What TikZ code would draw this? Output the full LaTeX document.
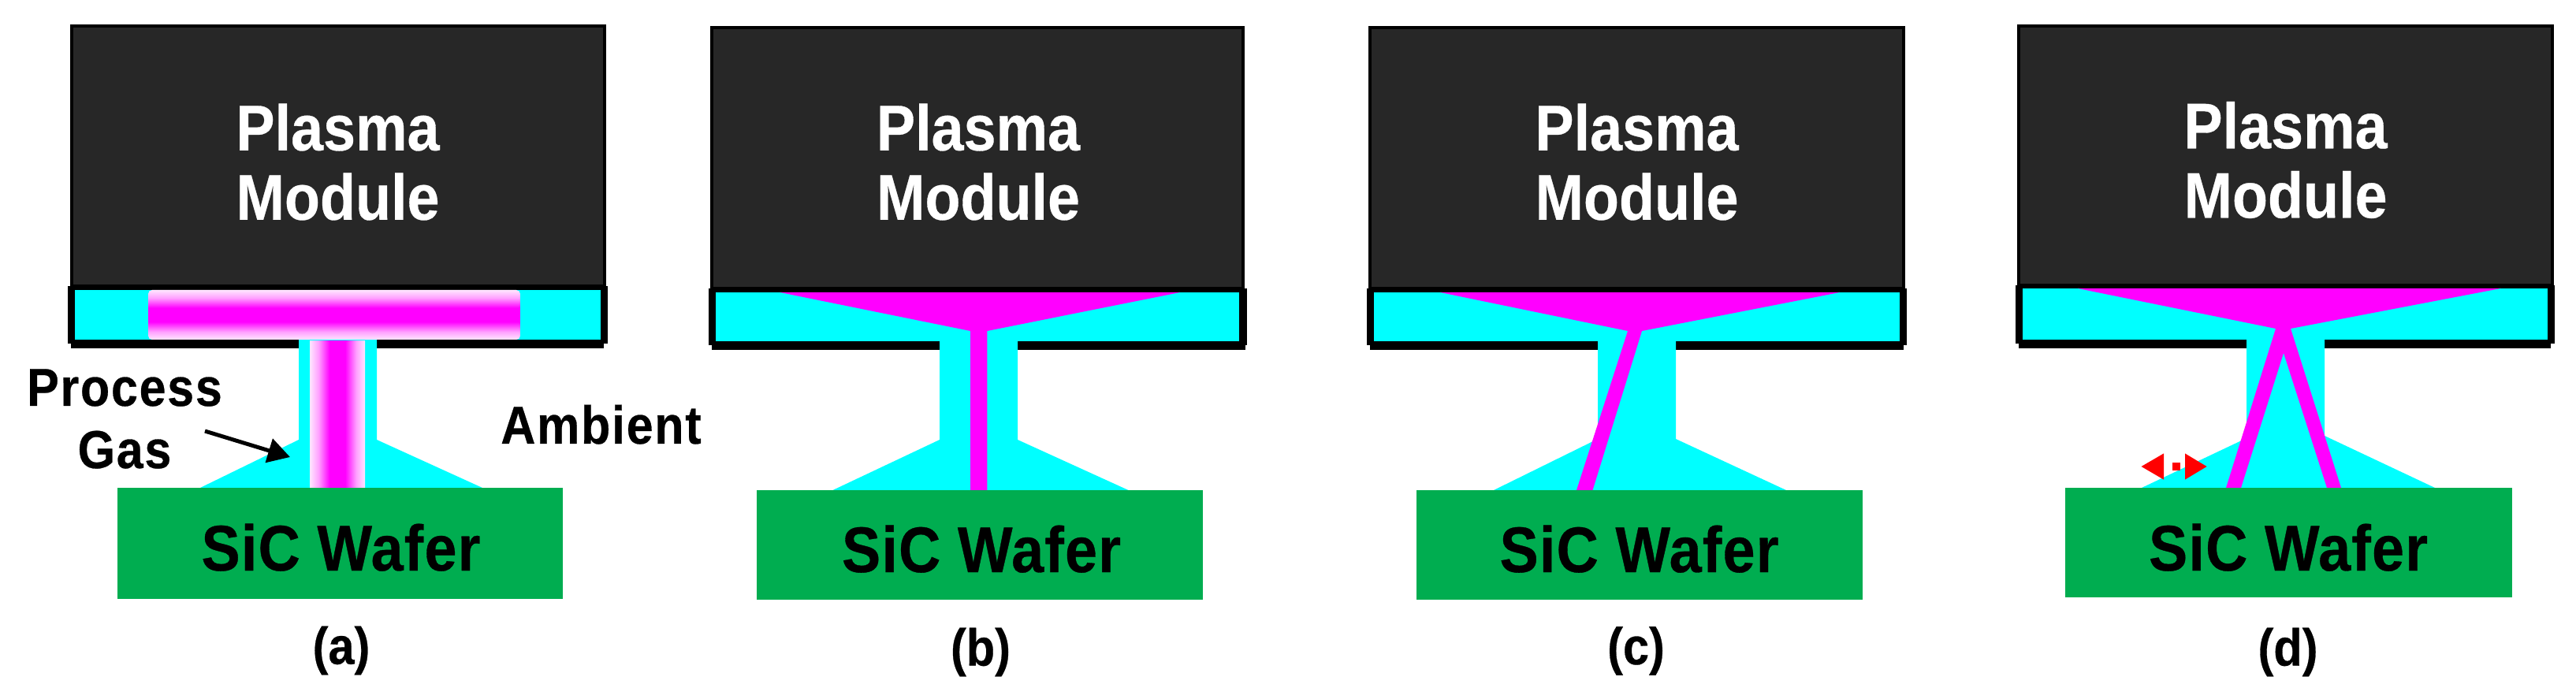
\documentclass[tikz,border=0pt]{standalone}
\usepackage{fontspec}
\usepackage{tikz}
\usepackage{xcolor}
\usetikzlibrary{arrows.meta}
\setmainfont{Liberation Sans}[FakeStretch=0.9, BoldFeatures={FakeBold=0.4}]
\definecolor{moduledark}{HTML}{272727}
\definecolor{wafergreen}{HTML}{00AD50}
\definecolor{gasedge}{HTML}{FFE6FF}
\definecolor{gasmid}{HTML}{FFA0FF}
\definecolor{ambientcyan}{HTML}{00FFFF}
\definecolor{plumemagenta}{HTML}{FF00FF}
\definecolor{spreadred}{HTML}{FF0000}
\pgfdeclareverticalshading{gasfade}{100bp}{color(0bp)=(gasedge); color(25bp)=(gasedge); color(33bp)=(gasmid); color(43bp)=(plumemagenta); color(57bp)=(plumemagenta); color(67bp)=(gasmid); color(75bp)=(gasedge); color(100bp)=(gasedge)}

\begin{document}
\begin{tikzpicture}[
    frameline/.style={fill=black},
    ambient/.style={fill=ambientcyan},
    plume/.style={fill=plumemagenta},
    modulebox/.style={fill=moduledark, draw=black, line width=0.04cm},
    wafer/.style={fill=wafergreen},
    modulelabel/.style={inner sep=0, align=center, text=white, font=\bfseries\fontsize{23.3}{25.04}\selectfont},
    waferlabel/.style={inner sep=0, anchor=base, font=\bfseries\fontsize{23.3}{25}\selectfont\addfontfeature{LetterSpace=1.5}},
    gaslabel/.style={inner sep=0, anchor=base, font=\bfseries\fontsize{19.3}{22.5}\selectfont\addfontfeature{LetterSpace=2.5}},
    caselabel/.style={inner sep=0, font=\bfseries\fontsize{18.8}{22}\selectfont},
    pointer/.style={draw=black, line width=0.05cm, -{Triangle[length=0.28cm,width=0.31cm]}},
    spread/.style={draw=spreadred, line width=0.10cm, dash pattern=on 0cm off 0.13cm on 0.10cm off 0.10cm,
        {Triangle[length=0.29cm,width=0.31cm]}-{Triangle[length=0.28cm,width=0.31cm]}}
]
        \useasboundingbox (0,-8.87) rectangle (32.68,0);

        % case a
        \fill [frameline] (0.856,-3.63) rectangle (7.71,-4.36);
        \fill [frameline] (0.90,-4.31) rectangle (7.66,-4.42);
        \fill [ambient] (0.954,-3.68) rectangle (7.616,-4.31);
        \fill [ambient] (3.79,-4.31) -- (3.79,-5.58) -- (2.54,-6.19) -- (6.12,-6.19) -- (4.78,-5.58) -- (4.78,-4.31) -- cycle;
        \shade [shading=gasfade, rounded corners=0.05cm] (1.88,-3.68) rectangle (6.60,-4.31);
        \shade [shading=gasfade, shading angle=90] (3.93,-4.33) rectangle (4.63,-6.19);
        \draw [modulebox] (0.91,-0.33) rectangle (7.67,-3.63);
        \fill [wafer] (1.485,-6.19) rectangle (7.14,-7.60);
        \node [modulelabel] (modulea) at (4.285,-2.055) {Plasma\\Module};
        \node [waferlabel] (wafera) at (4.325,-7.24) {SiC Wafer};
        \node [gaslabel] (process) at (1.58,-5.15) {Process};
        \node [gaslabel] (gas) at (1.58,-5.94) {Gas};
        \node [gaslabel] (ambienta) at (7.625,-5.63) {Ambient};
        \node [caselabel] (casea) at (4.33,-8.255) {(a)};
        \coordinate (gastail) at (2.60,-5.47);
        \coordinate (gastip) at (3.68,-5.80);
        \draw [pointer] (gastail) -- (gastip);

        % case b
        \fill [frameline] (8.986,-3.66) rectangle (15.816,-4.38);
        \fill [frameline] (9.03,-4.33) rectangle (15.80,-4.44);
        \fill [ambient] (9.084,-3.71) rectangle (15.72,-4.33);
        \fill [ambient] (11.92,-4.33) -- (11.92,-5.58) -- (10.565,-6.22) -- (14.315,-6.22) -- (12.91,-5.58) -- (12.91,-4.33) -- cycle;
        \fill [plume] (9.894,-3.71) -- (14.97,-3.71) -- (12.524,-4.20) -- (12.524,-6.22) -- (12.31,-6.22) -- (12.31,-4.20) -- cycle;
        \draw [modulebox] (9.034,-0.35) rectangle (15.77,-3.66);
        \fill [wafer] (9.60,-6.22) rectangle (15.26,-7.61);
        \node [modulelabel] (moduleb) at (12.41,-2.055) {Plasma\\Module};
        \node [waferlabel] (waferb) at (12.45,-7.26) {SiC Wafer};
        \node [caselabel] (caseb) at (12.44,-8.275) {(b)};

        % case c
        \fill [frameline] (17.336,-3.66) rectangle (24.19,-4.38);
        \fill [frameline] (17.38,-4.33) rectangle (24.15,-4.44);
        \fill [ambient] (17.434,-3.71) rectangle (24.10,-4.33);
        \fill [ambient] (20.27,-4.33) -- (20.27,-5.57) -- (18.95,-6.22) -- (22.66,-6.22) -- (21.26,-5.57) -- (21.26,-4.33) -- cycle;
        \fill [plume] (18.27,-3.71) -- (23.34,-3.71) -- (20.83,-4.20) -- (20.205,-6.22) -- (20.00,-6.22) -- (20.65,-4.20) -- cycle;
        \draw [modulebox] (17.384,-0.35) rectangle (24.146,-3.66);
        \fill [wafer] (17.97,-6.22) rectangle (23.63,-7.61);
        \node [modulelabel] (modulec) at (20.765,-2.055) {Plasma\\Module};
        \node [waferlabel] (waferc) at (20.795,-7.26) {SiC Wafer};
        \node [caselabel] (casec) at (20.755,-8.26) {(c)};

        % case d
        \fill [frameline] (25.57,-3.62) rectangle (32.41,-4.36);
        \fill [frameline] (25.61,-4.31) rectangle (32.36,-4.42);
        \fill [ambient] (25.66,-3.66) rectangle (32.32,-4.31);
        \fill [ambient] (28.50,-4.31) -- (28.50,-5.56) -- (27.17,-6.19) -- (30.89,-6.19) -- (29.49,-5.53) -- (29.49,-4.31) -- cycle;
        \fill [plume] (26.36,-3.66) -- (31.725,-3.66) -- (29.06,-4.17) -- (29.70,-6.19) -- (29.52,-6.19) -- (28.97,-4.48) -- (28.43,-6.19) -- (28.24,-6.19) -- (28.87,-4.17) -- cycle;
        \draw [modulebox] (25.61,-0.33) rectangle (32.375,-3.62);
        \fill [wafer] (26.20,-6.19) rectangle (31.865,-7.58);
        \node [modulelabel] (moduled) at (28.995,-2.03) {Plasma\\Module};
        \node [waferlabel] (waferd) at (29.03,-7.24) {SiC Wafer};
        \node [caselabel] (cased) at (29.025,-8.275) {(d)};
        \coordinate (spreadleft) at (27.16,-5.92);
        \coordinate (spreadright) at (28.00,-5.92);
        \draw [spread] (spreadleft) -- (spreadright);
\end{tikzpicture}
\end{document}
